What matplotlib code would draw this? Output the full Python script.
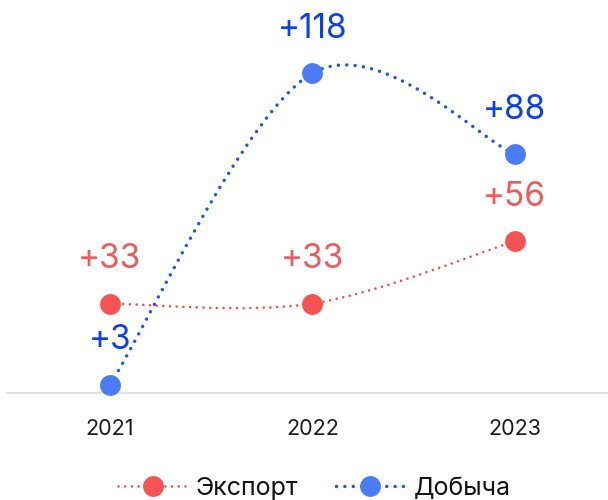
import matplotlib.pyplot as plt
import numpy as np
from matplotlib.path import Path
from matplotlib.patches import PathPatch
from matplotlib.lines import Line2D

plt.rcParams['font.family'] = ['Inter', 'DejaVu Sans']

years = ['2021', '2022', '2023']
export = [33, 33, 56]
mining = [3, 118, 88]

series_names = ['Экспорт', 'Добыча']
marker_colors = ['#f65454', '#4a7cf6']
line_colors = ['#f24e4e', '#2456dc']
label_colors = ['#f25a5a', '#0c3ff0']
line_widths = [1.9, 2.5]
dot_gaps = [4.8, 6.0]


# Catmull-Rom curve through the points (end points doubled)
def spline_path(xs, ys):
    pts = np.column_stack([xs, ys]).astype(float)
    n = len(pts)
    verts = [pts[0]]
    codes = [Path.MOVETO]
    for i in range(n - 1):
        p0 = pts[i - 1] if i > 0 else pts[i]
        p1 = pts[i]
        p2 = pts[i + 1]
        p3 = pts[i + 2] if i + 2 < n else pts[i + 1]
        verts += [p1 + (p2 - p0) / 6, p2 - (p3 - p1) / 6, p2]
        codes += [Path.CURVE4] * 3
    return Path(np.array(verts), codes)


fig = plt.figure(figsize=(6.08, 5.0), dpi=100)
ax = fig.add_axes([7 / 608, 107 / 500, 1 - 7 / 608, 393 / 500])
x = np.arange(len(years))
ax.set_xlim(-0.508, 2.46)
ax.set_ylim(0, 145)

for vals, mc, lc, tc, lw, gap in zip([export, mining], marker_colors, line_colors,
                                     label_colors, line_widths, dot_gaps):
    patch = PathPatch(spline_path(x, vals), fill=False, edgecolor=lc, linewidth=lw,
                      linestyle=(0, (0.01, gap / lw)), capstyle='round',
                      clip_on=False, zorder=2)
    ax.add_patch(patch)
    ax.plot(x, vals, 'o', color=mc, markersize=15, markeredgewidth=0,
            clip_on=False, zorder=3)
    for xi, v in zip(x, vals):
        ax.annotate(f'+{v}', (xi, v), xytext=(0, 32), textcoords='offset points',
                    ha='center', va='center', fontsize=24, color=tc, zorder=4)

ax.set_xticks(x)
ax.set_xticklabels(years)
ax.tick_params(axis='x', length=0, pad=19, labelsize=15.5, labelcolor='#1a1a1a')
ax.set_yticks([])
for side in ['top', 'right', 'left']:
    ax.spines[side].set_visible(False)
ax.spines['bottom'].set_color('#dddddd')
ax.spines['bottom'].set_linewidth(1.2)

handles = [Line2D([0], [0], color=lc, linewidth=lw, linestyle=(0, (0.01, gap / lw)),
                  dash_capstyle='round', marker='o', markersize=15,
                  markerfacecolor=mc, markeredgewidth=0)
           for mc, lc, lw, gap in zip(marker_colors, line_colors, line_widths, dot_gaps)]
fig.legend(handles, series_names, loc='center', bbox_to_anchor=(0.517, 0.024),
           ncol=2, frameon=False, fontsize=18, handlelength=2.75,
           columnspacing=1.5, handletextpad=0.35, labelcolor='#111111')

fig.savefig('out.png', dpi=100)
